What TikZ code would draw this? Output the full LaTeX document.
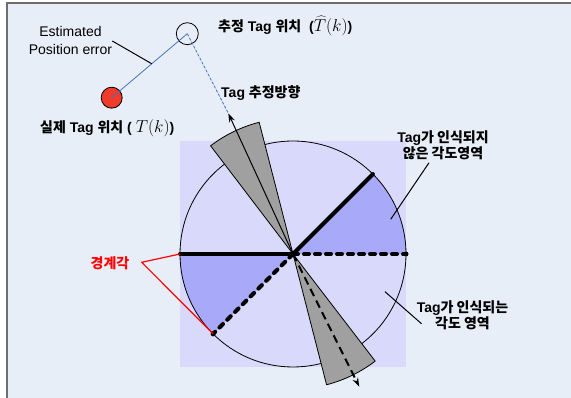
\documentclass[tikz,border=0pt]{standalone}
\usepackage{fontspec}
\setmainfont{Liberation Sans}
\newfontfamily\kr{Noto Sans CJK KR}
\usetikzlibrary{arrows.meta,positioning,calc}
\definecolor{paper}{HTML}{E8EEF8}
\definecolor{frameline}{HTML}{6E6E6E}
\definecolor{field}{HTML}{D9D9FB}
\definecolor{blind}{HTML}{A9A9F9}
\definecolor{beam}{HTML}{A0A0A0}
\definecolor{tagred}{HTML}{EE3B2B}
\definecolor{errline}{HTML}{4472C4}
\newcommand\bigmath[1]{{\fontsize{18}{18}\selectfont$#1$}}

\begin{document}
\begin{tikzpicture}[x=1pt,y=1pt,>={Stealth[length=9pt,width=6pt]},font=\fontsize{14}{18}\selectfont,
  lbl/.style={font=\fontsize{14}{16}\selectfont\bfseries,align=center,inner sep=0pt},
  thickray/.style={line width=4pt,line cap=round},
  dashray/.style={line width=4pt,line cap=round,dash pattern=on 5pt off 6pt},
  wedge/.style={draw,fill=beam,line width=0.8pt},
  tagmark/.style={circle,draw,line width=0.8pt,inner sep=0pt}]
\useasboundingbox (0,0) rectangle (571,398);
\fill[paper] (7,0) rectangle (571,394.5);
\draw[frameline,line width=2pt] (7,0)--(7,394.5)--(571,394.5);
% angular field
\fill[field] (180,31) rectangle (406,257);
\coordinate (c) at (293,144);
\coordinate (e0) at ($(c)+(0:113)$);
\coordinate (e45) at ($(c)+(45:113)$);
\coordinate (e180) at ($(c)+(180:113)$);
\coordinate (e225) at ($(c)+(225:113)$);
\fill[blind] (c)--(e0) arc (0:45:113)--cycle;
\fill[blind] (c)--(e180) arc (180:225:113)--cycle;
\draw[line width=0.8pt] (c) circle (113);
\draw[wedge] (c)--++(104.4:136) arc (104.4:127.3:136)--cycle;
\draw[wedge] (c)--++(-75.6:135) arc (-75.6:-52.5:135)--cycle;
\draw[thickray] (c)--(e45);
\draw[thickray] (c)--(e180);
\draw[dashray] (c)--(e0);
\draw[dashray] (c)--(e225);
\fill (e0) circle (2.5) (e225) circle (2.5);
% directions
\coordinate (tipA) at (228.3,284.7);
\coordinate (tipB) at (359.3,11.3);
\draw[->,line width=1pt] (c)--(tipA);
\draw[->,line width=2pt,dash pattern=on 8pt off 5pt] (c)--(tipB);
% tag positions
\node[tagmark,minimum size=22pt] (est) at (187.3,364.3) {};
\node[tagmark,fill=tagred,minimum size=21pt] (real) at (111.7,300.3) {};
\draw[errline,line width=0.8pt] (real.center)--(est.center);
\draw[errline,line width=0.8pt,dash pattern=on 3pt off 1.5pt] (est.center)--(tipA);
\node[align=center,inner sep=0pt] (errlbl) at (70.5,357) {Estimated\\Position error};
\coordinate (errpt) at ($(real.center)!0.53!(est.center)$);
\draw[line width=1pt] (errlbl.east)--(errpt);
\node[lbl,anchor=west] (estlbl) at (218,372.3) {{\kr 추정} Tag {\kr 위치} \ (\bigmath{\widehat{T}(k)})};
\node[lbl,anchor=west] (dirlbl) at (221,305) {Tag {\kr 추정방향}};
\node[lbl,anchor=west] (reallbl) at (40,270) {{\kr 실제} Tag {\kr 위치} ( \bigmath{T(k)})};
% region labels
\node[lbl] (nrec) at (443,253) {Tag{\kr 가 인식되지}\\{\kr 않은 각도영역}};
\node[lbl] (rec) at (462.5,83) {Tag{\kr 가 인식되는}\\{\kr 각도 영역}};
\coordinate (nrecIn) at (390.7,178.7);
\coordinate (recIn) at (385,106.3);
\draw[line width=1pt] ([xshift=-14pt,yshift=-3pt]nrec.south)--(nrecIn);
\draw[line width=1pt] (recIn)--([shift={(5pt,6pt)}]rec.south west);
\node[lbl,text=red] (bound) at (110,134.7) {\kr 경계각};
\coordinate (bnd) at (141.7,135.7);
\draw[red,line width=1.2pt] (e180)--(bnd)--(e225);
\end{tikzpicture}
\end{document}
